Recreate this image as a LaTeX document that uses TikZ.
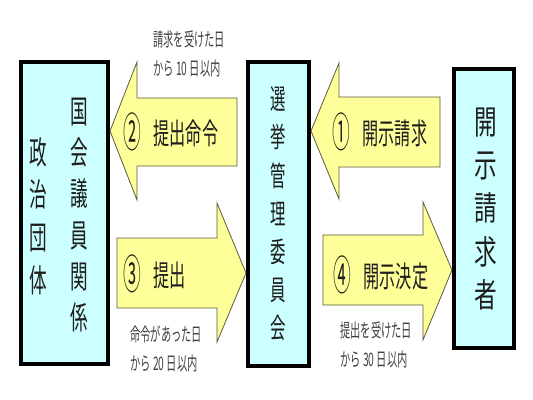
\documentclass[tikz,border=0pt]{standalone}
\usepackage{fontspec}
\newfontfamily\jp[FakeStretch=0.55]{Noto Sans CJK JP}
\newfontfamily\jpw[FakeStretch=0.68]{Noto Sans CJK JP}
\usetikzlibrary{fit}
\definecolor{hakoiro}{RGB}{204,255,255}
\definecolor{yajiiro}{RGB}{255,255,153}
\definecolor{fuchiiro}{RGB}{90,90,60}
\definecolor{mojiiro}{RGB}{30,30,30}
\newcommand{\maru}[1]{\raisebox{-2.5pt}{\scalebox{1.1}[1.4]{#1}}}

\begin{document}
\begin{tikzpicture}[x=0.75pt, y=-0.75pt,
        hako/.style={draw=black, line width=3pt, fill=hakoiro, inner sep=0pt},
        yajirushi/.style={draw=fuchiiro, line width=0.6pt, fill=yajiiro},
        tate/.style={align=center, inner sep=0pt, text=mojiiro},
        yoko/.style={inner sep=0pt, text=mojiiro, font=\jp\fontsize{22pt}{26pt}\selectfont},
        kigen/.style={align=left, anchor=west, inner sep=0pt, text=black!75, font=\jp\fontsize{14pt}{22pt}\selectfont}
    ]
        \useasboundingbox (0,0) rectangle (533,400);

        % Các hộp
        \node[hako, fit={(21,62) (108,364)}] (seiji) {};
        \node[hako, fit={(248,62) (309,366)}] (senkan) {};
        \node[hako, fit={(454,69) (514,348)}] (seikyusha) {};

        \node[tate, font=\jp\fontsize{24pt}{32pt}\selectfont] (dantai) at (38,216) {政\\治\\団\\体};
        \node[tate, font=\jp\fontsize{24pt}{31pt}\selectfont] (giin) at (79,215) {国\\会\\議\\員\\関\\係};
        \node[tate, font=\jp\fontsize{21pt}{28.6pt}\selectfont] (iinkai) at (senkan.center) {選\\挙\\管\\理\\委\\員\\会};
        \node[tate, font=\jpw\fontsize{25pt}{32.5pt}\selectfont] (kaiji) at (486,209) {開\\示\\請\\求\\者};

        % Các mũi tên
        \draw[yajirushi] (senkan.east |- 0,131) -- (339,63) -- (339,97) -- (440,97) -- (440,167) -- (339,167) -- (339,199) -- cycle;
        \draw[yajirushi] (seiji.east |- 0,131) -- (137,62) -- (137,98) -- (237,98) -- (237,166) -- (137,166) -- (137,200) -- cycle;
        \draw[yajirushi] (senkan.west |- 0,273) -- (217,342) -- (217,308) -- (117,308) -- (117,238) -- (217,238) -- (217,203) -- cycle;
        \draw[yajirushi] (seikyusha.west |- 0,270) -- (423,340) -- (423,305) -- (323,305) -- (323,235) -- (423,235) -- (423,202) -- cycle;

        \node[yoko] (seikyu) at (380,132) {\maru{①}\hspace{9pt}開示請求};
        \node[yoko] (meirei) at (171,132) {\maru{②}\hspace{9pt}提出命令};
        \node[yoko] (teishutsu) at (155,274) {\maru{③}\hspace{9pt}提出};
        \node[yoko] (kettei) at (381,275) {\maru{④}\hspace{9pt}開示決定};

        % Thời hạn
        \node[kigen] (kigen10) at (153,54) {請求を受けた日\\から 10 日以内};
        \node[kigen] (kigen20) at (130,349) {命令があった日\\から 20 日以内};
        \node[kigen] (kigen30) at (340,345) {提出を受けた日\\から 30 日以内};
    \end{tikzpicture}
\end{document}
